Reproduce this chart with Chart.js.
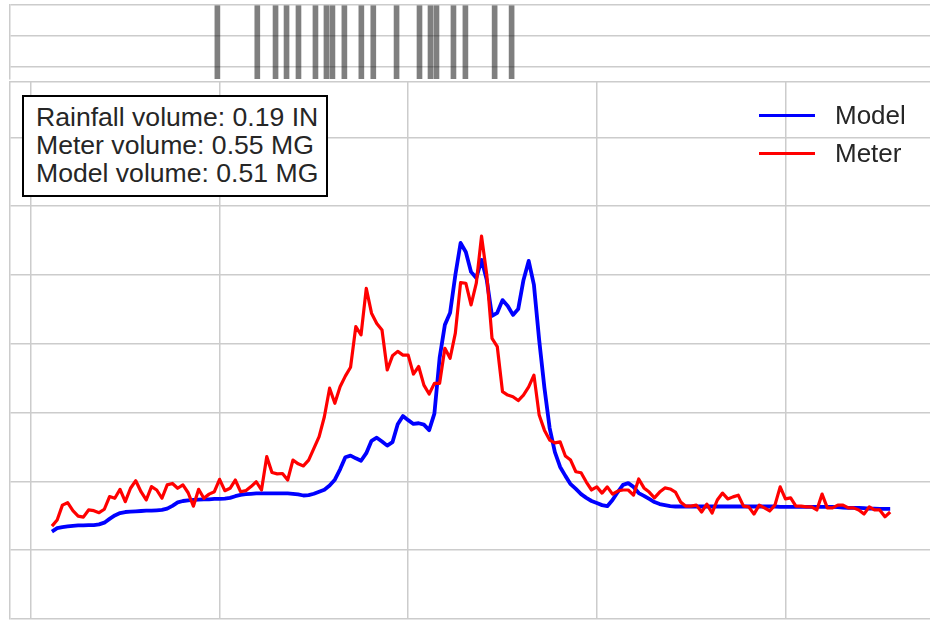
<!DOCTYPE html>
<html>
<head>
<meta charset="utf-8">
<title>Rainfall / flow event</title>
<script src="https://cdn.jsdelivr.net/npm/chart.js@4.4.1/dist/chart.umd.min.js"></script>
<style>
  html, body { margin: 0; padding: 0; background: #fff; overflow: hidden; }
  #wrap { position: relative; width: 930px; height: 620px; font-family: "Liberation Sans", Arial, sans-serif; color: #262626; }
  canvas { position: absolute; left: 0; top: 0; }
  #stats { position: absolute; left: 22px; top: 95px; width: 306px; height: 102px; box-sizing: border-box;
           border: 2px solid #000; background: #fff; padding: 6px 0 0 12px; font-size: 26.6px; line-height: 28px; }
  #legend { position: absolute; left: 759px; top: 96px; font-size: 26px; }
  .item { display: flex; align-items: center; height: 38px; }
  .swatch { display: inline-block; width: 56px; margin-right: 20px; }
</style>
</head>
<body>
<div id="wrap">
  <canvas id="flow" width="930" height="620"></canvas>
  <canvas id="rain" width="930" height="82"></canvas>
  <div id="stats">
    Rainfall volume: 0.19 IN<br>
    Meter volume: 0.55 MG<br>
    Model volume: 0.51 MG
  </div>
  <div id="legend"></div>
</div>

<script>
// flow series, 10 minute samples (MGD), first one at 00:40
var startHour = 0.667;
var stepHours = 1 / 6;

var modelFlow = [
  0.254,0.264,0.267,0.269,0.271,0.272,0.272,0.273,0.273,0.275,
  0.280,0.291,0.301,0.308,0.311,0.312,0.313,0.314,0.315,0.315,
  0.316,0.317,0.321,0.329,0.339,0.343,0.345,0.346,0.347,0.348,
  0.348,0.349,0.349,0.350,0.352,0.357,0.361,0.363,0.364,0.365,
  0.365,0.365,0.365,0.365,0.365,0.365,0.364,0.362,0.359,0.360,
  0.364,0.370,0.376,0.388,0.405,0.435,0.470,0.475,0.467,0.460,
  0.482,0.518,0.527,0.516,0.504,0.514,0.566,0.590,0.578,0.567,
  0.569,0.565,0.549,0.597,0.759,0.855,0.890,1.000,1.093,1.067,
  1.009,0.991,1.044,0.985,0.881,0.890,0.927,0.910,0.884,0.901,
  0.985,1.041,0.971,0.811,0.672,0.555,0.485,0.442,0.416,0.392,
  0.378,0.363,0.352,0.343,0.337,0.331,0.328,0.346,0.369,0.390,
  0.395,0.384,0.366,0.358,0.349,0.340,0.334,0.331,0.328,0.327,
  0.327,0.327,0.327,0.327,0.327,0.327,0.327,0.327,0.327,0.327,
  0.327,0.327,0.327,0.327,0.327,0.327,0.327,0.327,0.327,0.326,
  0.326,0.326,0.326,0.326,0.326,0.326,0.326,0.326,0.326,0.326,
  0.325,0.324,0.323,0.323,0.323,0.322,0.321,0.321,0.320,0.320,
  0.320
];

var meterFlow = [
  0.270,0.288,0.331,0.338,0.315,0.299,0.296,0.317,0.315,0.309,
  0.319,0.356,0.351,0.377,0.341,0.380,0.402,0.370,0.346,0.385,
  0.375,0.351,0.390,0.394,0.380,0.390,0.367,0.328,0.377,0.351,
  0.363,0.370,0.406,0.373,0.380,0.404,0.370,0.373,0.385,0.399,
  0.375,0.472,0.426,0.422,0.423,0.404,0.462,0.451,0.445,0.462,
  0.496,0.530,0.588,0.671,0.627,0.675,0.706,0.732,0.850,0.826,
  0.961,0.889,0.859,0.840,0.724,0.765,0.778,0.767,0.767,0.712,
  0.734,0.680,0.654,0.685,0.685,0.787,0.758,0.831,0.978,0.976,
  0.913,0.976,1.113,1.000,0.816,0.792,0.661,0.651,0.646,0.635,
  0.651,0.675,0.709,0.593,0.549,0.520,0.512,0.515,0.474,0.462,
  0.428,0.425,0.398,0.375,0.384,0.366,0.384,0.363,0.372,0.375,
  0.375,0.360,0.407,0.381,0.369,0.352,0.369,0.381,0.378,0.369,
  0.340,0.328,0.328,0.331,0.311,0.334,0.308,0.346,0.366,0.349,
  0.355,0.360,0.328,0.326,0.305,0.331,0.323,0.314,0.331,0.384,
  0.349,0.352,0.328,0.328,0.326,0.326,0.317,0.363,0.323,0.323,
  0.331,0.331,0.323,0.323,0.317,0.305,0.326,0.317,0.317,0.297,
  0.311
];

// rain gauge tips (hours after midnight), 0.01 in each
var rainTimes = [5.93, 7.20, 7.78, 8.13, 8.51, 9.05, 9.40, 9.59, 9.97, 10.51,
                 10.89, 11.63, 12.36, 12.71, 12.90, 13.44, 13.82, 14.75, 15.29];
var rainDepth = [0.01, 0.01, 0.01, 0.01, 0.01, 0.01, 0.01, 0.01, 0.01, 0.01,
                 0.01, 0.01, 0.01, 0.01, 0.01, 0.01, 0.01, 0.01, 0.01];

var hourTicks = [0, 6, 12, 18, 24];
var flowTicks = [0, 0.2, 0.4, 0.6, 0.8, 1.0, 1.2, 1.4];
var rainTicks = [0, 0.004, 0.008];

var xMin = -0.667, xMax = 28.6;
var gridColor = '#cccccc';

function setTicks(list) {
  return function(scale) {
    scale.ticks = list.map(function(v) { return { value: v }; });
  };
}

var times = modelFlow.map(function(_, i) { return startHour + i * stepHours; });
function toPoints(vals) {
  return vals.map(function(v, i) { return { x: times[i], y: v }; });
}

var flowChart = new Chart(document.getElementById('flow'), {
  type: 'line',
  data: {
    datasets: [
      { label: 'Model', data: toPoints(modelFlow), borderColor: '#0000ff', borderWidth: 3.8, order: 2 },
      { label: 'Meter', data: toPoints(meterFlow), borderColor: '#ff0000', borderWidth: 3.2, order: 1 }
    ]
  },
  options: {
    responsive: false,
    animation: false,
    devicePixelRatio: 1,
    layout: { padding: { left: 10, top: 82, right: 0, bottom: 1 } },
    elements: {
      point: { radius: 0 },
      line: { tension: 0, borderJoinStyle: 'round' }
    },
    plugins: { legend: { display: false }, tooltip: { enabled: false } },
    scales: {
      x: {
        type: 'linear', min: xMin, max: xMax,
        afterBuildTicks: setTicks(hourTicks),
        ticks: { display: false },
        grid: { color: gridColor, lineWidth: 1.5, drawTicks: false },
        border: { display: false }
      },
      xTop: {
        type: 'linear', position: 'top', min: xMin, max: xMax,
        ticks: { display: false },
        grid: { display: false, drawTicks: false },
        border: { display: true, color: gridColor, width: 1.5 }
      },
      y: {
        min: 0, max: 1.561,
        afterBuildTicks: setTicks(flowTicks),
        ticks: { display: false },
        grid: { color: gridColor, lineWidth: 1.5, drawTicks: false },
        border: { display: true, color: gridColor, width: 1.5 }
      }
    }
  }
});

new Chart(document.getElementById('rain'), {
  type: 'bar',
  data: {
    datasets: [{
      label: 'Rainfall',
      data: rainTimes.map(function(t, i) { return { x: t, y: rainDepth[i] }; }),
      backgroundColor: 'rgba(0,0,0,0.5)',
      barThickness: 5
    }]
  },
  options: {
    responsive: false,
    animation: false,
    devicePixelRatio: 1,
    layout: { padding: { left: 10, top: 5, right: 0, bottom: 3 } },
    plugins: { legend: { display: false }, tooltip: { enabled: false } },
    scales: {
      x: { type: 'linear', display: false, offset: false, min: xMin, max: xMax },
      y: {
        reverse: true, min: 0, max: 0.0096,
        afterBuildTicks: setTicks(rainTicks),
        ticks: { display: false },
        grid: { color: gridColor, lineWidth: 1.5, drawTicks: false },
        border: { display: true, color: gridColor, width: 1.5 }
      }
    }
  }
});

// legend built from the flow datasets
var legend = document.getElementById('legend');
flowChart.data.datasets.forEach(function(ds) {
  var row = document.createElement('div');
  row.className = 'item';
  var sw = document.createElement('span');
  sw.className = 'swatch';
  sw.style.borderTop = ds.borderWidth + 'px solid ' + ds.borderColor;
  var txt = document.createElement('span');
  txt.textContent = ds.label;
  row.appendChild(sw);
  row.appendChild(txt);
  legend.appendChild(row);
});
</script>
</body>
</html>
